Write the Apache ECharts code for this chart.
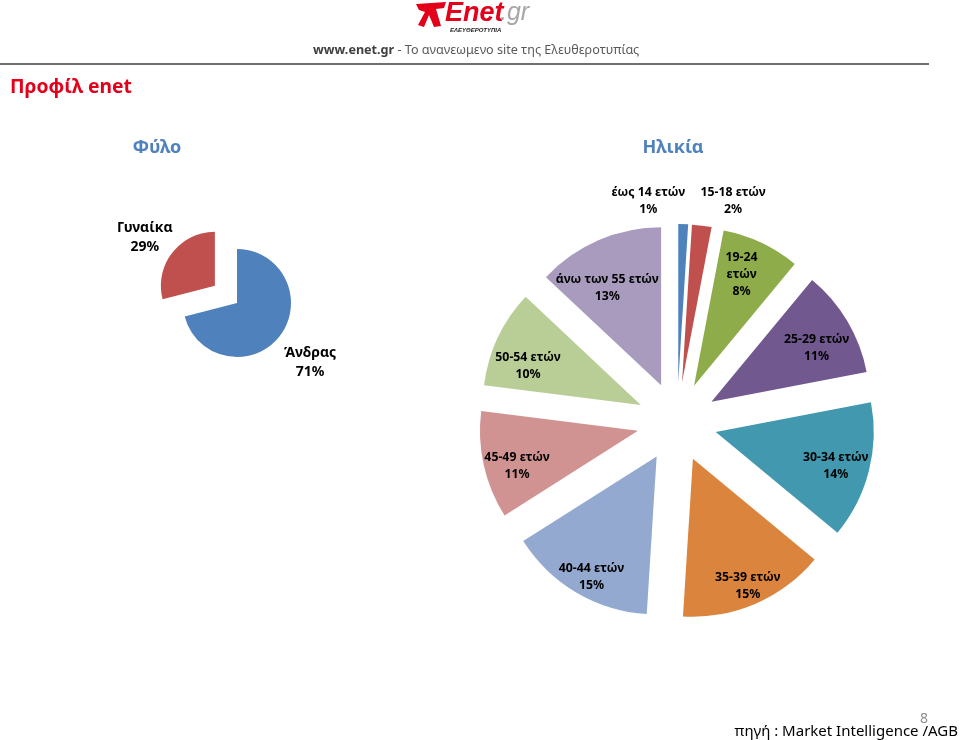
<!DOCTYPE html>
<html>
<head>
<meta charset="utf-8">
<script src="https://cdn.jsdelivr.net/npm/echarts@6/dist/echarts.min.js"></script>
<style>
  html, body { margin: 0; padding: 0; background: #fff; }
  #chart { width: 960px; height: 740px; }
</style>
</head>
<body>
<div id="chart"></div>
<script>
// ---- data ----
const genderNames = ['Άνδρας', 'Γυναίκα'];
const genderValues = [71, 29];
const genderColors = ['#4F81BD', '#C0504D'];

const ageNames = ['έως 14 ετών', '15-18 ετών', '19-24 ετών', '25-29 ετών', '30-34 ετών',
                  '35-39 ετών', '40-44 ετών', '45-49 ετών', '50-54 ετών', 'άνω των 55 ετών'];
const ageValues = [1, 2, 8, 11, 14, 15, 15, 11, 10, 13];
const ageColors = ['#4F81BD', '#C0504D', '#8EAD4A', '#71588F', '#4198AF',
                   '#DB843D', '#93A9CF', '#D19392', '#B9CD96', '#A99BBD'];

const FONT = 'Noto Sans';

const chart = echarts.init(document.getElementById('chart'), null, { renderer: 'canvas' });

// label nudges (label styling only)
const ageLabelNudge = { 0: [-34, -63], 1: [35, -64], 2: [-7, -5], 3: [-5, 2], 4: [-4, -8],
                        5: [4, 0], 7: [4, -3], 8: [3, 6], 9: [-3, 10] };

const option = {
  animation: false,
  backgroundColor: '#ffffff',
  graphic: [
    // logo
    { type: 'polygon', shape: { points: [[416,4],[446,2],[444,8],[436,9],[441,26],[434,27],[429,15],[424,27],[418,25],[425,12],[419,10]] },
      style: { fill: '#E3001B' } },
    { type: 'text', left: 445, top: 0, style: { text: 'Enet', font: 'italic bold 27px "Liberation Sans"', fill: '#E3001B' } },
    { type: 'text', left: 500, top: 1, style: { text: '.gr', font: 'italic 25px "Liberation Sans"', fill: '#A6A6A6' } },
    { type: 'text', left: 450, top: 27, style: { text: 'ΕΛΕΥΘΕΡΟΤΥΠΙΑ', font: 'italic bold 6px "Liberation Sans"', fill: '#222' } },
    // header line text
    { type: 'text', left: 313, top: 44, style: { rich: {
        a: { fontFamily: FONT, fontSize: 12.6, fontWeight: 'bold', fill: '#404040' },
        b: { fontFamily: FONT, fontSize: 12.6, fill: '#595959' } },
        text: '{a|www.enet.gr}{b| - Το ανανεωμενο site της Ελευθεροτυπίας}' } },
    { type: 'line', shape: { x1: 0, y1: 64, x2: 929, y2: 64 }, style: { stroke: '#404040', lineWidth: 1.5 } },
    // page title
    { type: 'text', left: 10, top: 78, style: { text: 'Προφίλ enet', font: 'bold 19.3px "Noto Sans"', fill: '#E3001B' } },
    // section titles
    { type: 'text', x: 157, y: 148, style: { text: 'Φύλο', font: 'bold 18px "Noto Sans"', fill: '#4F81BD', align: 'center', verticalAlign: 'middle' } },
    { type: 'text', x: 673, y: 148, style: { text: 'Ηλικία', font: 'bold 18px "Noto Sans"', fill: '#4F81BD', align: 'center', verticalAlign: 'middle' } },
    // footer
    { type: 'text', right: 2, top: 724, style: { text: 'πηγή : Market Intelligence /AGB', font: '15px "Noto Sans"', fill: '#000' } },
    { type: 'text', left: 920, top: 712, style: { text: '8', font: '14px "Noto Sans"', fill: '#8C8C8C' } }
  ],
  series: [
    // gender pie
    {
      type: 'pie', z: 2, center: [237, 303], radius: 54, startAngle: 90, clockwise: true,
      selectedMode: 'single', selectedOffset: 28, silent: true,
      label: { show: false }, labelLine: { show: false },
      data: genderNames.map((n, i) => ({ name: n, value: genderValues[i], selected: i === 1,
        itemStyle: { color: genderColors[i] } }))
    },
    // gender labels
    {
      type: 'pie', z: 5, center: [237, 303], radius: [82, 102], startAngle: 90, clockwise: true,
      selectedMode: 'single', selectedOffset: 28, silent: true,
      itemStyle: { color: 'rgba(0,0,0,0)' },
      label: { show: true, position: 'inside', color: '#000', fontFamily: FONT, fontWeight: 'bold',
               fontSize: 14, lineHeight: 19, formatter: p => p.name + '\n' + p.value + '%' },
      labelLine: { show: false },
      labelLayout: p => (p.dataIndex === 1 ? { dx: 5, dy: 10 } : { dx: -2, dy: 1 }),
      data: genderNames.map((n, i) => ({ name: n, value: genderValues[i], selected: i === 1 }))
    },
    // age pie
    {
      type: 'pie', z: 2, center: [677, 422], radius: 158, startAngle: 90, clockwise: true,
      selectedMode: 'multiple', selectedOffset: 40, silent: true,
      label: { show: false }, labelLine: { show: false },
      data: ageNames.map((n, i) => ({ name: n, value: ageValues[i], selected: true,
        itemStyle: { color: ageColors[i] } }))
    },
    // age labels
    {
      type: 'pie', z: 5, center: [677, 432], radius: [155, 175], startAngle: 90, clockwise: true,
      silent: true,
      itemStyle: { color: 'rgba(0,0,0,0)' },
      label: { show: true, position: 'inside', color: '#000', fontFamily: FONT, fontWeight: 'bold',
               fontSize: 12.3, lineHeight: 17,
               formatter: p => (p.dataIndex === 2 ? p.name.replace(' ', '\n') : p.name) + '\n' + p.value + '%' },
      labelLine: { show: false },
      labelLayout: p => {
        const n = ageLabelNudge[p.dataIndex];
        return n ? { dx: n[0], dy: n[1] } : {};
      },
      data: ageNames.map((n, i) => ({ name: n, value: ageValues[i] }))
    }
  ]
};

chart.setOption(option);
</script>
</body>
</html>
